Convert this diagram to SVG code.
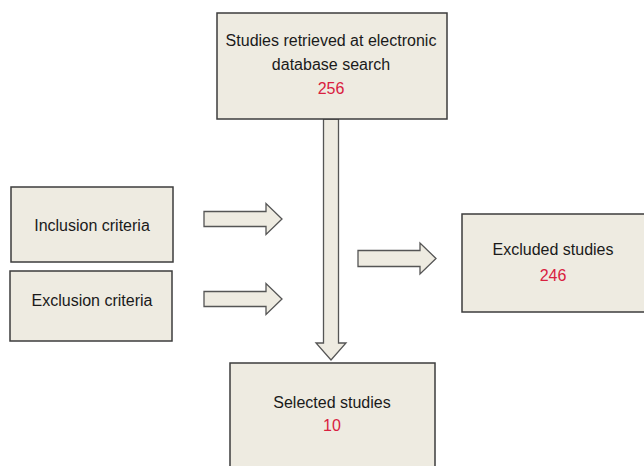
<svg xmlns="http://www.w3.org/2000/svg" width="644" height="466" viewBox="0 0 644 466">
<style>
.box{fill:#eeebe1;stroke:#3d3d3d;stroke-width:1.5}
.arr{fill:#eeebe1;stroke:#555;stroke-width:1.3;stroke-linejoin:miter}
text{font-family:"Liberation Sans",Arial,sans-serif;font-size:16px;text-anchor:middle;fill:#1a1a1a}
text.num{fill:#d9203f}
</style>
<rect width="644" height="466" fill="#fff"/>
<g id="connectors">
<path class="arr" d="M323.5,119 L338.5,119 L338.5,343 L346,343 L331,360 L316,343 L323.5,343 Z"/>
<path class="arr" d="M204,211.5 L266,211.5 L266,203.5 L282,219 L266,234.5 L266,226.5 L204,226.5 Z"/>
<path class="arr" d="M204,291.5 L266,291.5 L266,283.5 L282,299 L266,314.5 L266,306.5 L204,306.5 Z"/>
<path class="arr" d="M358,250.5 L420,250.5 L420,243 L436,258.5 L420,274 L420,266.5 L358,266.5 Z"/>
</g>
<g id="n-search">
<rect class="box" x="217" y="13" width="230" height="106"/>
<text x="331" y="46">Studies retrieved at electronic</text>
<text x="331" y="70">database search</text>
<text class="num" x="331" y="94">256</text>
</g>
<g id="n-inclusion">
<rect class="box" x="11" y="187" width="162" height="75"/>
<text x="92" y="231">Inclusion criteria</text>
</g>
<g id="n-exclusion">
<rect class="box" x="10" y="271" width="162" height="70"/>
<text x="92" y="306">Exclusion criteria</text>
</g>
<g id="n-excluded">
<rect class="box" x="462" y="214" width="186" height="98"/>
<text x="553" y="255">Excluded studies</text>
<text class="num" x="553" y="281">246</text>
</g>
<g id="n-selected">
<rect class="box" x="230" y="363" width="205" height="110"/>
<text x="332" y="408">Selected studies</text>
<text class="num" x="332" y="431">10</text>
</g>
</svg>
